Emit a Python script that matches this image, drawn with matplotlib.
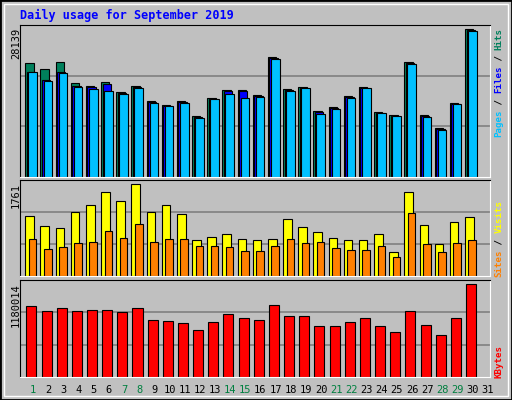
import matplotlib.pyplot as plt
from matplotlib.patches import Rectangle

days = list(range(1, 32))
hits = [21645, 20499, 21836, 17825, 17252, 18016, 16106, 17252, 14387, 13623,
        14387, 11714, 14960, 16552, 16552, 15533, 22791, 16679, 17061, 12668,
        13242, 15342, 17061, 12478, 11905, 21836, 11905, 9422, 14006, 28139, 0]
files = [19926, 18398, 19926, 17252, 17061, 17634, 15915, 17061, 14196, 13432,
         14196, 11523, 14769, 16361, 16361, 15342, 22600, 16488, 16870, 12478,
         13051, 15151, 16870, 12287, 11714, 21645, 11714, 9231, 13814, 27947, 0]
pages = [19926, 18207, 19735, 17061, 16679, 16297, 15724, 16870, 14006, 13432,
         14006, 11332, 14769, 15724, 14960, 15151, 22409, 16297, 16870, 12096,
         12860, 14960, 16870, 12287, 11714, 21454, 11523, 9040, 13814, 27756, 0]
visits = [1148, 957, 919, 1225, 1359, 1608, 1436, 1761, 1225, 1359,
          1187, 689, 746, 804, 708, 689, 708, 1091, 938, 842,
          727, 689, 689, 804, 459, 1608, 976, 612, 1034, 1129, 0]
sites = [708, 517, 555, 632, 651, 861, 727, 995, 651, 708,
         708, 574, 574, 555, 478, 478, 574, 708, 632, 651,
         536, 498, 498, 574, 364, 1206, 612, 459, 632, 689, 0]
kbytes = [895769, 844101, 869940, 844101, 857020, 857020, 831180, 869940, 727820, 714900,
          689060, 598620, 701980, 805340, 753660, 727820, 908690, 779500, 779500, 650300,
          650300, 701980, 753660, 650300, 572780, 844101, 663220, 534020, 753660, 1180014, 0]
weekend = [1, 7, 8, 14, 15, 21, 22, 28, 29]

BG = '#C0C0C0'
C_HITS, C_FILES, C_PAGES = '#00805C', '#0000FF', '#00C0FF'
C_VISITS, C_SITES, C_KB = '#FFFF00', '#FF8000', '#FF0000'
GREEN = '#008040'
W, H = 512, 400
MONO = 'DejaVu Sans Mono'

fig = plt.figure(figsize=(W / 100, H / 100), dpi=100, facecolor=BG)
# outer frame
fig.patches.append(Rectangle((0, 0), 1, 1, transform=fig.transFigure, fill=False,
                             edgecolor='black', linewidth=2))
fig.patches.append(Rectangle((4 / W, 4 / H), 1 - 8 / W, 1 - 8 / H, transform=fig.transFigure,
                             fill=False, edgecolor='white', linewidth=1))


def make_ax(top, bottom):
    ax = fig.add_axes([20 / W, 1 - bottom / H, 470 / W, (bottom - top) / H])
    ax.set_facecolor(BG)
    ax.set_xlim(0.2, 31.2)
    ax.set_xticks([])
    ax.set_yticks([])
    ax.spines['left'].set_color('black')
    ax.spines['top'].set_color('black')
    ax.spines['right'].set_color('white')
    ax.spines['bottom'].set_color('white')
    return ax


def grid(ax, ymax):
    for f in (1 / 3, 2 / 3):
        ax.axhline(ymax * f, color='#808080', linewidth=1.2, zorder=0)


# region ###### HITS / FILES / PAGES ######
ax1 = make_ax(25, 177)
top1 = max(hits) * 152 / 147.7
ax1.set_ylim(0, top1)
grid(ax1, top1)
for d, h, f, p in zip(days, hits, files, pages):
    if h:
        ax1.bar(d - 0.45, h, width=0.55, align='edge', color=C_HITS, edgecolor='black', linewidth=0.8)
        ax1.bar(d - 0.35, f, width=0.55, align='edge', color=C_FILES, edgecolor='black', linewidth=0.8)
        ax1.bar(d - 0.25, p, width=0.57, align='edge', color=C_PAGES, edgecolor='black', linewidth=0.8)
# endregion

# region ###### VISITS / SITES ######
ax2 = make_ax(180, 276)
top2 = max(visits) * 288 / 276
ax2.set_ylim(0, top2)
grid(ax2, top2)
for d, v, s in zip(days, visits, sites):
    if v:
        ax2.bar(d - 0.45, v, width=0.57, align='edge', color=C_VISITS, edgecolor='black', linewidth=0.8)
        ax2.bar(d - 0.22, s, width=0.5, align='edge', color=C_SITES, edgecolor='black', linewidth=0.8)
# endregion

# region ###### KBYTES ######
ax3 = make_ax(280, 377)
top3 = max(kbytes) * 286 / 274
ax3.set_ylim(0, top3)
grid(ax3, top3)
for d, k in zip(days, kbytes):
    if k:
        ax3.bar(d - 0.38, k, width=0.66, align='edge', color=C_KB, edgecolor='black', linewidth=0.8)
# endregion

# day labels
for d in days:
    x = ax3.transData.transform((d + 0.06, 0))[0]
    fig.text(x / W, 1 - 390 / H, str(d), ha='center', va='center', fontsize=7.5, family=MONO,
             color=GREEN if d in weekend else 'black')

# title
fig.text(20 / W, 1 - 15 / H, 'Daily usage for September 2019', ha='left', va='center',
         fontsize=8.5, family=MONO, fontweight='bold', color='#0000FF')

# left max labels
fig.text(16 / W, 1 - 28 / H, str(max(hits)), rotation=90, ha='center', va='top', fontsize=7.5, family=MONO)
fig.text(16 / W, 1 - 183 / H, str(max(visits)), rotation=90, ha='center', va='top', fontsize=7.5, family=MONO)
fig.text(16 / W, 1 - 283 / H, str(max(kbytes)), rotation=90, ha='center', va='top', fontsize=7.5, family=MONO)

# right legend labels, built bottom-up piece by piece
CH = 5.45  # px per character


def stack(y0, pieces):
    y = y0
    for txt, col in pieces:
        fig.text(499 / W, 1 - y / H, txt, rotation=90, ha='center', va='bottom', fontsize=6.6,
                 family=MONO, fontweight='bold', color=col)
        y -= CH * len(txt)


stack(137, [('Pages', C_PAGES), (' / ', 'black'), ('Files', C_FILES), (' / ', 'black'), ('Hits', C_HITS)])
stack(277, [('Sites', C_SITES), (' / ', 'black'), ('Visits', C_VISITS)])
stack(378, [('KBytes', C_KB)])

plt.savefig('out.png', dpi=100, facecolor=BG)
